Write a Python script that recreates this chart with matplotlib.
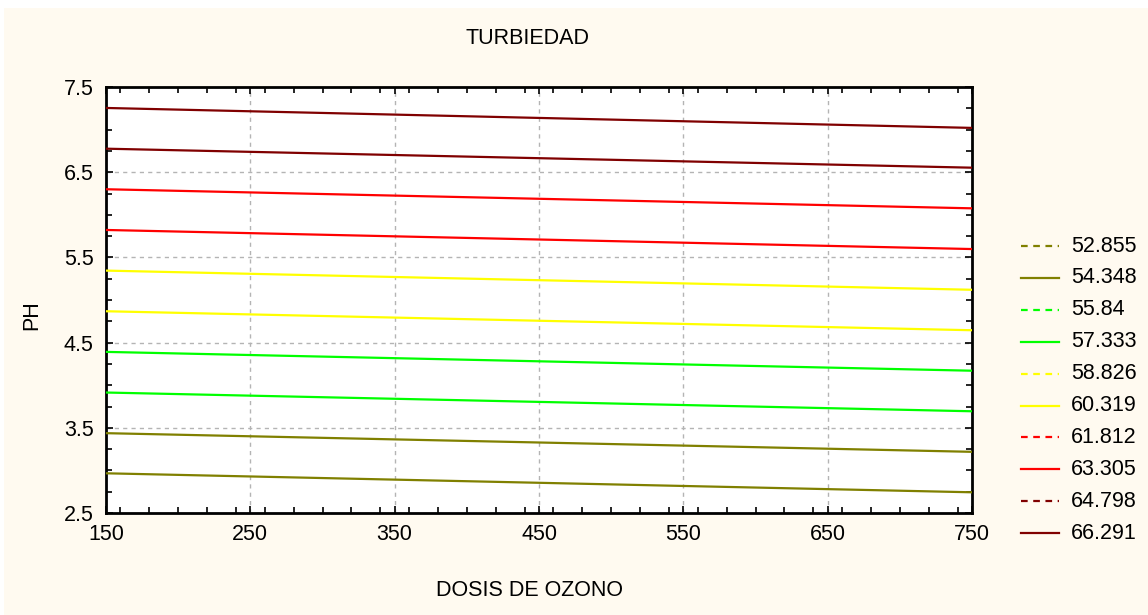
import matplotlib
matplotlib.use("Agg")
import matplotlib.pyplot as plt
from matplotlib.lines import Line2D
from matplotlib.patches import Rectangle
from matplotlib.ticker import MultipleLocator

plt.rcParams['font.family'] = ['Liberation Sans', 'DejaVu Sans']

# Contour levels of TURBIEDAD and the PH value of each contour at both ends of the dose range
levels = [52.855, 54.348, 55.84, 57.333, 58.826, 60.319, 61.812, 63.305, 64.798, 66.291]
dose_ends = [150, 750]
ph_at_150 = [2.966, 3.437, 3.914, 4.391, 4.868, 5.345, 5.822, 6.300, 6.776, 7.254]
ph_at_750 = [2.743, 3.218, 3.694, 4.170, 4.645, 5.120, 5.598, 6.076, 6.553, 7.020]
line_colors = ['#808000', '#808000', '#00FF00', '#00FF00', '#FFFF00',
               '#FFFF00', '#FF0000', '#FF0000', '#800000', '#800000']
legend_styles = ['--', '-', '--', '-', '--', '-', '--', '-', '--', '-']

x_ticks = [150, 250, 350, 450, 550, 650, 750]
y_ticks = [2.5, 3.5, 4.5, 5.5, 6.5, 7.5]

FS = 15.5
W, H = 1148, 615
fig = plt.figure(figsize=(W / 100, H / 100), dpi=100, facecolor='white')
fig.add_artist(Rectangle((4 / W, 0), 1 - 4 / W, 1 - 8 / H, transform=fig.transFigure,
                         facecolor='#FFFAF0', edgecolor='none', zorder=-10))

L, R, T, B = 106, 972, 87, 513
ax = fig.add_axes([L / W, 1 - B / H, (R - L) / W, (B - T) / H])
ax.set_facecolor('white')

for lo, hi, c in zip(ph_at_150, ph_at_750, line_colors):
    ax.plot(dose_ends, [lo, hi], color=c, lw=1.6, solid_capstyle='butt', zorder=3)

ax.set_xlim(150, 750)
ax.set_ylim(2.5, 7.5)
ax.set_xticks(x_ticks)
ax.set_yticks(y_ticks)
ax.set_xticklabels([str(v) for v in x_ticks])
ax.set_yticklabels([f"{v:.1f}" for v in y_ticks])
ax.xaxis.set_minor_locator(MultipleLocator(20))
ax.yaxis.set_minor_locator(MultipleLocator(0.25))
ax.tick_params(which='both', direction='in', top=True, right=True, width=1.2,
               colors='black', labelsize=FS)
ax.tick_params(which='major', length=5, pad=8)
ax.tick_params(which='minor', length=4)
ax.tick_params(axis='y', which='major', pad=9)
ax.grid(True, which='major', color='#b4b4b4', linestyle=(0, (3, 3)), linewidth=1.0)
for s in ax.spines.values():
    s.set_linewidth(2.0)
    s.set_color('black')

fig.text(528 / W, 1 - 38 / H, 'TURBIEDAD', ha='center', va='center', fontsize=FS)
fig.text(529 / W, 1 - 590 / H, 'DOSIS DE OZONO', ha='center', va='center', fontsize=FS)
fig.text(32 / W, 1 - 315 / H, 'PH', ha='center', va='center', rotation=90, fontsize=FS)

# Legend drawn entry by entry, one row per contour level
y0, dy = 246, 31.9
for i, (lev, c, ls) in enumerate(zip(levels, line_colors, legend_styles)):
    y = 1 - (y0 + i * dy) / H
    fig.add_artist(Line2D([1021 / W, 1059 / W], [y, y], transform=fig.transFigure,
                          color=c, lw=1.6, linestyle=(0, (3, 2.5)) if ls == '--' else '-'))
    fig.text(1071 / W, y, f"{lev:g}", ha='left', va='center', fontsize=FS)

fig.savefig('out.png', dpi=100, facecolor=fig.get_facecolor())
